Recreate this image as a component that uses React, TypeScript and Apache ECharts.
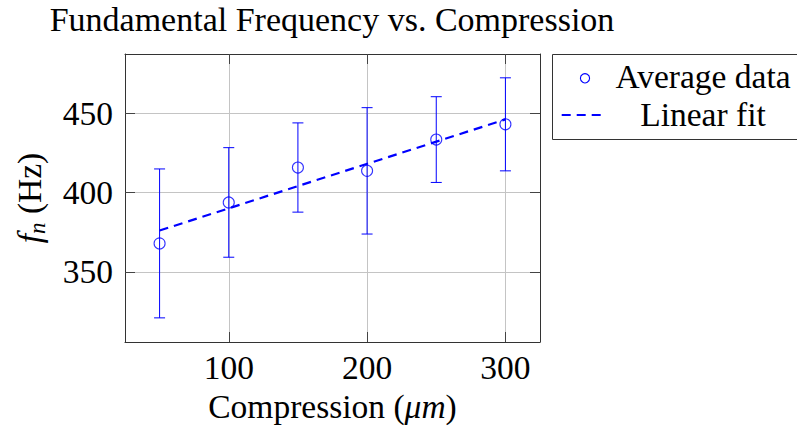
import { useEffect, useRef } from "react";
import * as echarts from "echarts";

// ---- data ----
const compression = [50, 100, 150, 200, 250, 300];
const averageHz = [367.9, 393.7, 415.7, 413.6, 433.3, 442.9];
const errorHz = [46.9, 34.5, 28.1, 39.8, 27.0, 29.3];
const fitX = [50, 300];
const fitY = [376, 446];
const xTicks = [100, 200, 300];
const yTicks = [350, 400, 450];
const legendLabels = ["Average data", "Linear fit"];
const titleText = "Fundamental Frequency vs. Compression";

const FONT = "'Liberation Serif'";
const BLUE = "#0000ff";
const FS = 33.5;

export default function App() {
  const ref = useRef<HTMLDivElement>(null);

  useEffect(() => {
    if (!ref.current) return;
    const chart = echarts.init(ref.current, undefined, { renderer: "svg" });

    const errData = compression.map((x, i) => [x, averageHz[i] - errorHz[i], averageHz[i] + errorHz[i]]);
    const avgData = compression.map((x, i) => [x, averageHz[i]]);
    const fitData = fitX.map((x, i) => [x, fitY[i]]);

    const tickStyle = { color: "#444", width: 1 };
    const axisLineStyle = { color: "#333", width: 1 };

    const xBase = {
      type: "value" as const,
      min: 25,
      max: 325,
      axisLine: { show: true, onZero: false, lineStyle: axisLineStyle },
      axisTick: { show: true, inside: true, length: 10, customValues: xTicks, lineStyle: tickStyle },
    };
    const yBase = {
      type: "value" as const,
      min: 305.8,
      max: 487.2,
      axisLine: { show: true, onZero: false, lineStyle: axisLineStyle },
      axisTick: { show: true, inside: true, length: 10, customValues: yTicks, lineStyle: tickStyle },
    };

    chart.setOption({
      animation: false,
      grid: { left: 125, right: 257, top: 54, bottom: 85, containLabel: false, outerBoundsMode: "none" },
      xAxis: [
        {
          ...xBase,
          position: "bottom",
          axisLabel: { customValues: xTicks, fontFamily: FONT, fontSize: FS, color: "#000", margin: 8 },
          splitLine: { show: true, lineStyle: { color: "#c4c4c4", width: 1 } },
          name: "Compression ({i|μm})",
          nameLocation: "middle",
          nameGap: 47,
          nameTextStyle: {
            fontFamily: FONT,
            fontSize: FS,
            color: "#000",
            rich: { i: { fontFamily: FONT, fontSize: FS, fontStyle: "italic", color: "#000" } },
          },
        },
        {
          ...xBase,
          position: "top",
          axisLabel: { show: false },
          splitLine: { show: false },
        },
      ],
      yAxis: [
        {
          ...yBase,
          position: "left",
          axisLabel: { customValues: yTicks, fontFamily: FONT, fontSize: FS, color: "#000", margin: 12 },
          splitLine: { show: true, lineStyle: { color: "#c4c4c4", width: 1 } },
        },
        {
          ...yBase,
          position: "right",
          axisLabel: { show: false },
          splitLine: { show: false },
        },
      ],
      series: [
        {
          type: "custom",
          name: "error",
          xAxisIndex: 0,
          yAxisIndex: 0,
          data: errData,
          encode: { x: 0, y: [1, 2] },
          renderItem: (_params: any, api: any) => {
            const x = api.value(0);
            const pLo = api.coord([x, api.value(1)]);
            const pHi = api.coord([x, api.value(2)]);
            const cap = 5.5;
            const style = { stroke: BLUE, lineWidth: 1 };
            return {
              type: "group",
              children: [
                { type: "line", shape: { x1: pLo[0], y1: pLo[1], x2: pHi[0], y2: pHi[1] }, style },
                { type: "line", shape: { x1: pLo[0] - cap, y1: pLo[1], x2: pLo[0] + cap, y2: pLo[1] }, style },
                { type: "line", shape: { x1: pHi[0] - cap, y1: pHi[1], x2: pHi[0] + cap, y2: pHi[1] }, style },
              ],
            };
          },
        },
        {
          type: "scatter",
          name: legendLabels[0],
          data: avgData,
          symbol: "circle",
          symbolSize: 11,
          itemStyle: { color: "rgba(0,0,0,0)", borderColor: BLUE, borderWidth: 1.1 },
        },
        {
          type: "line",
          name: legendLabels[1],
          data: fitData,
          showSymbol: false,
          symbol: "none",
          lineStyle: { color: BLUE, width: 2.2, type: [9, 6] },
        },
      ],
      graphic: [
        {
          type: "text",
          x: 332,
          y: 19,
          style: { text: titleText, font: "34px 'Liberation Serif'", fill: "#000", align: "center", verticalAlign: "middle" },
        },
        {
          type: "text",
          x: 29,
          y: 198,
          rotation: Math.PI / 2,
          style: {
            text: "{f|f}{n|n} (Hz)",
            font: "33.5px 'Liberation Serif'",
            fill: "#000",
            align: "center",
            verticalAlign: "middle",
            rich: {
              f: { font: "italic 33.5px 'Liberation Serif'", fill: "#000", lineHeight: 40 },
              n: { font: "italic 23px 'Liberation Serif'", fill: "#000", verticalAlign: "bottom", lineHeight: 26 },
            },
          },
        },
        {
          type: "rect",
          shape: { x: 552.5, y: 54.5, width: 260, height: 85 },
          style: { fill: "#fff", stroke: "#333", lineWidth: 1 },
        },
        {
          type: "circle",
          shape: { cx: 585, cy: 78.3, r: 4.6 },
          style: { fill: "none", stroke: BLUE, lineWidth: 1.1 },
        },
        {
          type: "line",
          shape: { x1: 561.7, y1: 115, x2: 601.7, y2: 115 },
          style: { stroke: BLUE, lineWidth: 2.2, lineDash: [9, 6] },
        },
        {
          type: "text",
          x: 703,
          y: 76,
          style: { text: legendLabels[0], font: "33.5px 'Liberation Serif'", fill: "#000", align: "center", verticalAlign: "middle" },
        },
        {
          type: "text",
          x: 703,
          y: 114,
          style: { text: legendLabels[1], font: "33.5px 'Liberation Serif'", fill: "#000", align: "center", verticalAlign: "middle" },
        },
      ],
    });

    return () => chart.dispose();
  }, []);

  return <div ref={ref} style={{ position: "fixed", left: 0, top: 0, width: 797, height: 427, background: "#fff" }} />;
}
